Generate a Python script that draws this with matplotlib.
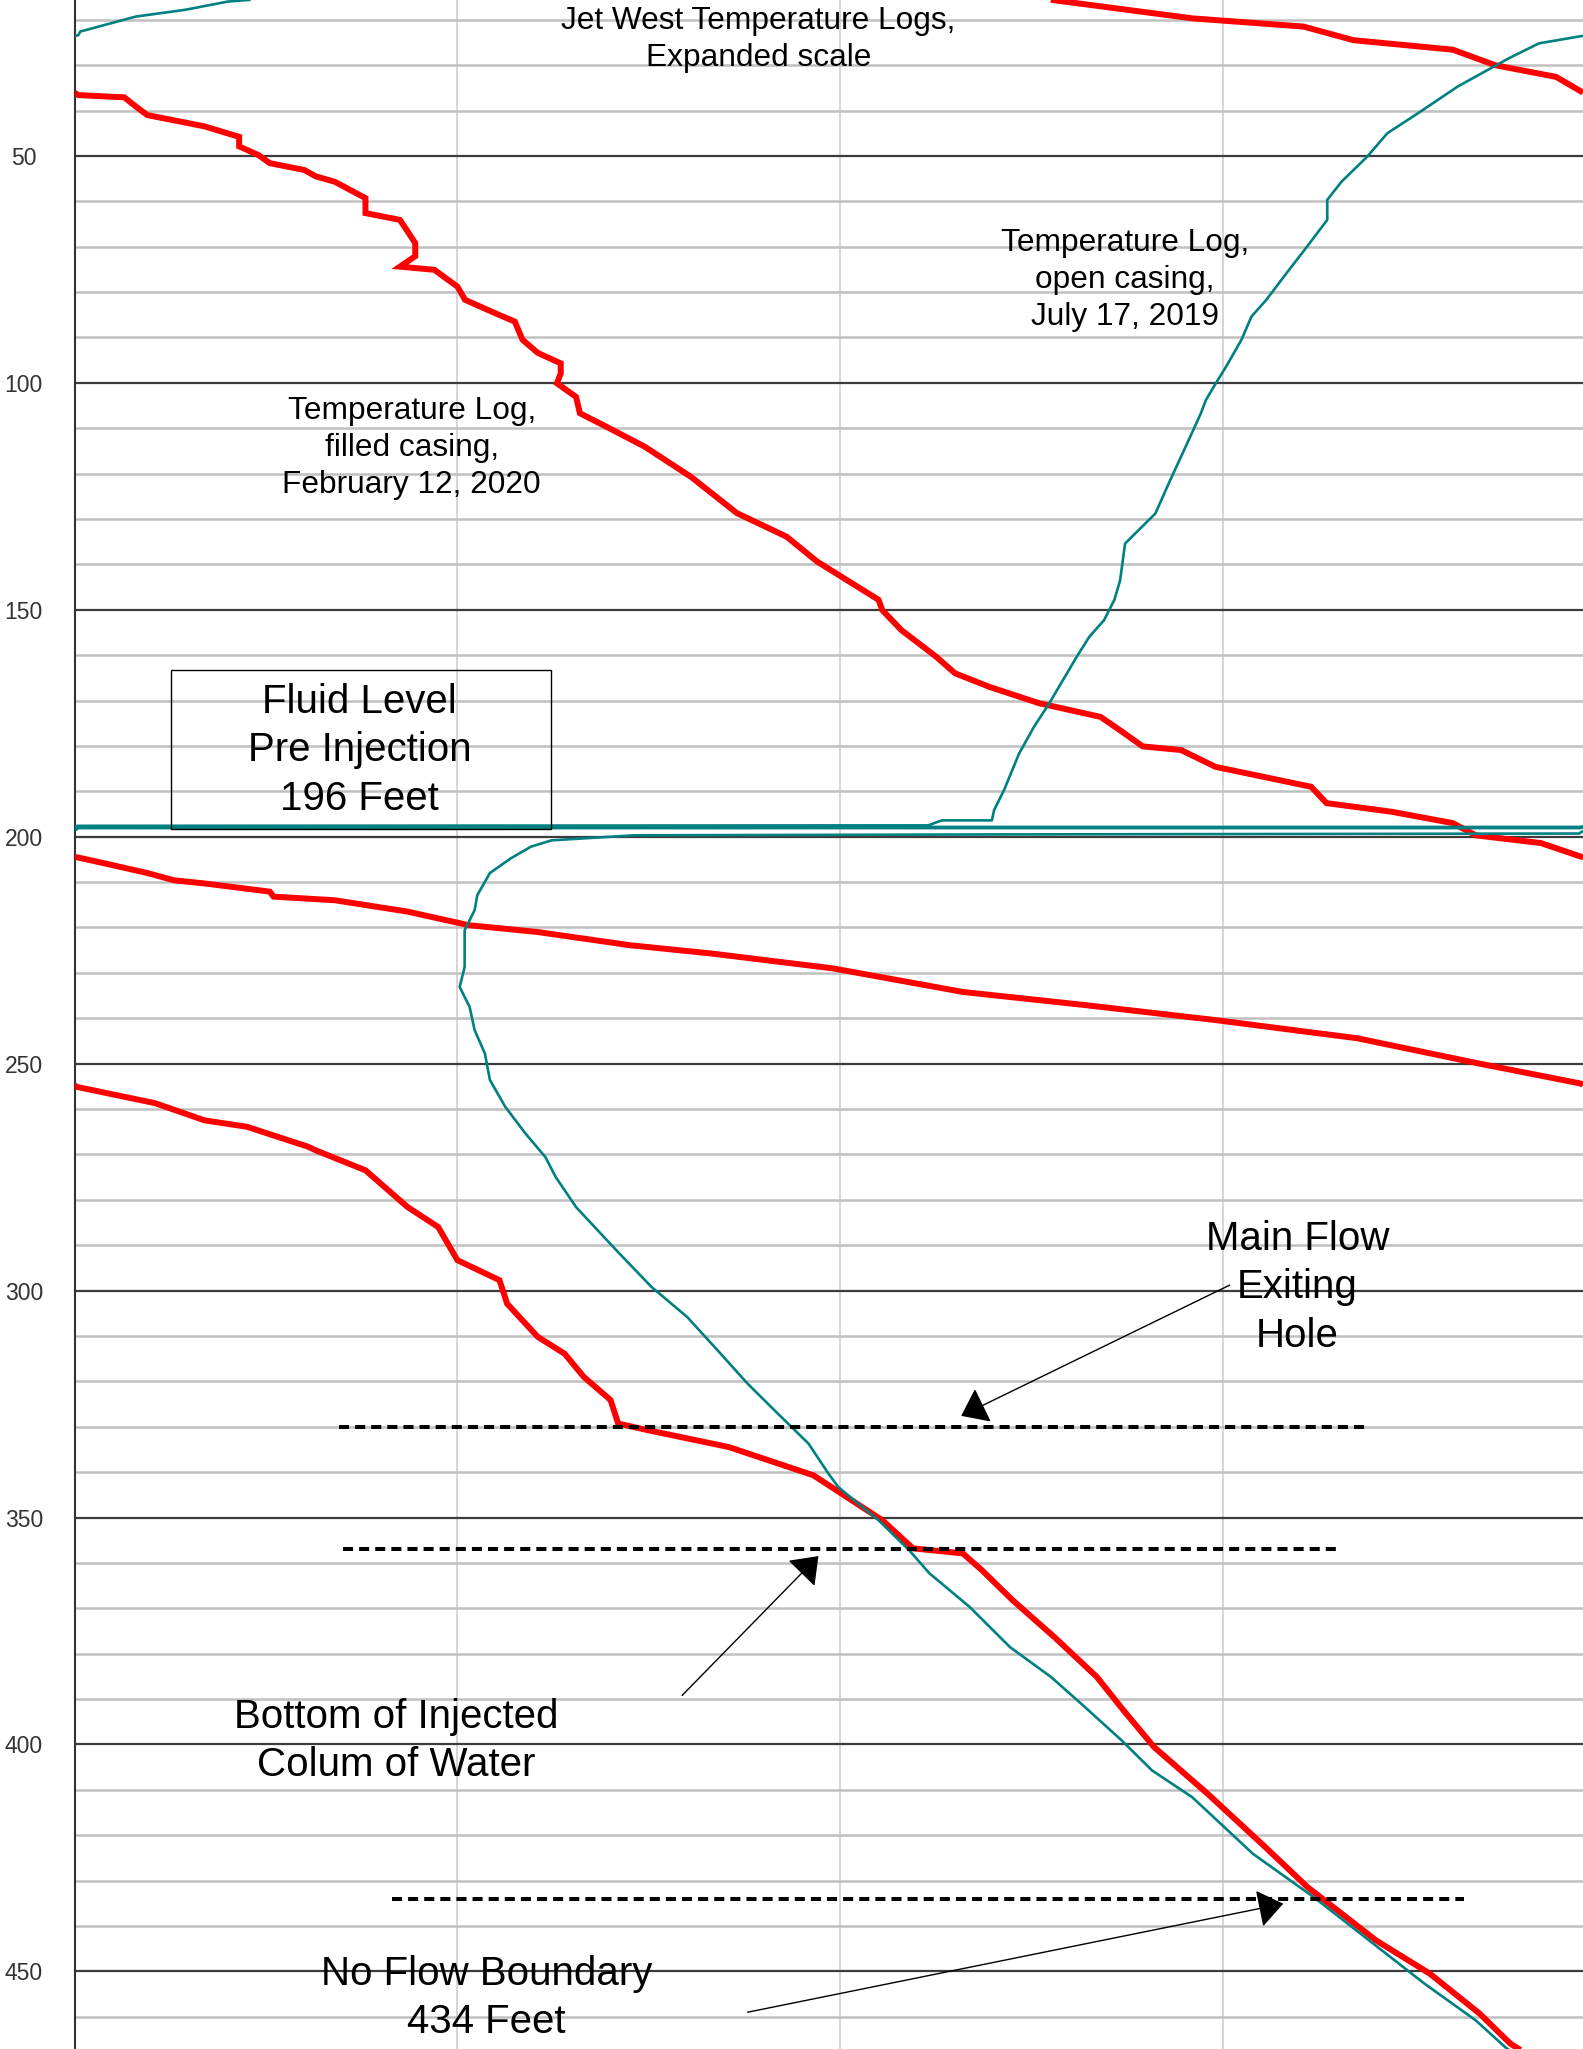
import numpy as np
import matplotlib
matplotlib.use("Agg")
import matplotlib.pyplot as plt
from matplotlib.patches import Rectangle

plt.rcParams['font.family'] = ['Liberation Sans', 'DejaVu Sans']

# ---------------------------------------------------------------------------
# Temperature logs on an expanded (wrapping) scale.
# Temperatures are given in scale divisions; the plot width is WRAP divisions
# and a trace that runs off one edge re-enters on the other.
# ---------------------------------------------------------------------------
WRAP = 3.94

# Filled casing, February 12, 2020 (red)
red_depth = [15.6, 19.7, 21.5, 24.5, 26.6, 30.0, 32.6, 35.8,
             36.6, 37.1, 39.1, 41.0, 43.5, 45.8, 47.9, 49.8, 51.6, 53.1, 54.5,
             55.7, 59.3, 62.6, 64.1, 69.2, 72.1, 74.4, 75.1, 78.8, 81.7, 84.7,
             86.5, 90.5, 93.4, 95.7, 97.9, 100.1, 103.1, 106.7, 109.7, 114.1,
             120.7, 128.7, 133.9, 139.4, 147.8, 150.1, 154.5, 160.3, 164.0,
             167.0, 170.6, 173.6, 176.5, 180.1, 180.9, 184.6, 189.0, 192.6,
             194.5, 197.0, 199.7, 201.4, 204.4,
             204.6, 205.9, 208.0, 209.6, 210.3, 212.1, 213.2, 214.0, 216.5,
             219.5, 221.0, 223.9, 225.7, 229.0, 234.2, 237.1, 240.4, 244.4,
             250.0, 254.4,
             255.1, 258.7, 262.5, 263.9, 268.3, 269.1, 273.5, 281.6, 286.0,
             293.3, 297.7, 302.9, 310.2, 313.9, 319.0, 324.1, 329.3, 330.8,
             334.5, 340.7, 346.2, 350.6, 356.8, 357.9, 361.6, 368.2, 376.4,
             385.1, 392.5, 400.6, 410.9, 422.6, 431.4, 443.2, 450.5, 459.3,
             465.9, 467.5]
red_temp = [2.55, 2.92, 3.21, 3.34, 3.60, 3.71, 3.87, 3.935,
            3.95, 4.07, 4.10, 4.13, 4.28, 4.37, 4.37, 4.42, 4.45, 4.54, 4.57,
            4.62, 4.70, 4.70, 4.79, 4.83, 4.83, 4.79, 4.88, 4.94, 4.96, 5.04,
            5.09, 5.11, 5.15, 5.21, 5.21, 5.20, 5.25, 5.26, 5.33, 5.43,
            5.55, 5.67, 5.80, 5.88, 6.04, 6.05, 6.10, 6.19, 6.24,
            6.33, 6.46, 6.62, 6.67, 6.73, 6.83, 6.92, 7.17, 7.21,
            7.38, 7.54, 7.60, 7.77, 7.875,
            7.89, 7.96, 8.07, 8.14, 8.22, 8.39, 8.40, 8.56, 8.75,
            8.91, 9.09, 9.33, 9.54, 9.86, 10.20, 10.52, 10.86, 11.23,
            11.55, 11.815,
            11.825, 12.03, 12.16, 12.27, 12.43, 12.45, 12.58, 12.69, 12.77,
            12.82, 12.93, 12.95, 13.03, 13.10, 13.15, 13.22, 13.24, 13.32,
            13.53, 13.75, 13.85, 13.93, 14.01, 14.14, 14.19, 14.27, 14.38,
            14.49, 14.56, 14.64, 14.78, 14.93, 15.04, 15.22, 15.36, 15.49,
            15.57, 15.60]

# Open casing, July 17, 2019 (teal)
teal_depth = [15.6, 16.0, 17.8, 19.3, 22.6,
              23.4, 25.2, 28.5, 34.7, 40.6, 45.0, 50.2, 55.7, 59.7, 64.1, 70.0,
              75.8, 81.7, 85.4, 90.5, 96.4, 100.1, 103.8, 106.7, 114.1, 121.4,
              128.8, 135.4, 143.5, 147.8, 152.3, 155.9, 160.3, 170.6, 175.8,
              181.7, 189.7, 194.1, 196.4, 196.4, 197.5, 197.6,
              197.85, 197.85, 198.1, 198.1, 199.3,
              199.5, 199.7, 200.8, 202.2, 204.8, 208.0, 212.9, 216.2, 220.6,
              228.7, 233.1, 237.5, 242.6, 247.8, 253.6, 259.5, 265.4, 270.6,
              275.0, 281.6, 291.1, 299.2, 305.8, 313.1, 320.5, 327.1, 333.7,
              340.3, 343.3, 350.6, 357.2, 362.3, 369.7, 378.6, 385.1, 391.0,
              399.1, 405.7, 411.6, 424.1, 433.6, 444.0, 452.7, 460.8, 466.7,
              467.5]
teal_temp = [16.22, 16.16, 16.05, 15.92, 15.775,
             15.77, 15.645, 15.566, 15.433, 15.329, 15.249, 15.196, 15.129,
             15.092, 15.092, 15.039, 14.986, 14.933, 14.894, 14.868, 14.828,
             14.801, 14.775, 14.762, 14.722, 14.682, 14.643, 14.564, 14.551,
             14.536, 14.509, 14.471, 14.438, 14.366, 14.326, 14.287, 14.248,
             14.222, 14.216, 14.085, 14.05, 11.83,
             11.81, 7.89, 7.87, 3.95, 3.93,
             2.40, 1.46, 1.246, 1.192, 1.139, 1.085, 1.052, 1.045, 1.019,
             1.019, 1.006, 1.032, 1.045, 1.072, 1.085, 1.125, 1.178, 1.230,
             1.257, 1.31, 1.415, 1.507, 1.60, 1.679, 1.758, 1.837, 1.917,
             1.969, 1.995, 2.10, 2.18, 2.233, 2.338, 2.444, 2.55, 2.629,
             2.735, 2.814, 2.919, 3.078, 3.236, 3.394, 3.526, 3.66, 3.737,
             3.75]

# Marked depths (feet)
main_flow_depth = 330.0
injected_bottom_depth = 357.0
no_flow_depth = 434.0
fluid_level_depth = 196

DEPTH_TOP, DEPTH_BOTTOM = 15.65, 467.1


def wrapped_pieces(depth, temp, period):
    """Split a trace into pieces that fit inside [0, period]."""
    pieces = []
    xs, ys = [], []
    for i, (d, t) in enumerate(zip(depth, temp)):
        if i > 0:
            d0, t0 = depth[i - 1], temp[i - 1]
            k0, k1 = int(np.floor(t0 / period)), int(np.floor(t / period))
            step = 1 if k1 > k0 else -1
            for k in range(k0, k1, step):
                edge = (k + 1) * period if step > 0 else k * period
                f = (edge - t0) / (t - t0)
                de = d0 + f * (d - d0)
                xs.append(period if step > 0 else 0.0)
                ys.append(de)
                pieces.append((xs, ys))
                xs, ys = [0.0 if step > 0 else period], [de]
        xs.append(t - np.floor(t / period) * period)
        ys.append(d)
    pieces.append((xs, ys))
    return pieces


fig = plt.figure(figsize=(15.83, 20.49), dpi=100)
left = 74.5 / 1583
ax = fig.add_axes([left, 0.0, 1.0 - left, 1.0])
ax.set_xlim(0, WRAP)
ax.set_ylim(DEPTH_BOTTOM, DEPTH_TOP)

# grid
ax.set_yticks(np.arange(50, 451, 50))
ax.set_yticks([v for v in range(20, 461, 10) if v % 50], minor=True)
ax.set_xticks([1, 2, 3])
ax.grid(which='major', axis='y', color='#3c3c3c', lw=1.6, zorder=1)
ax.grid(which='minor', axis='y', color='#c0c0c0', lw=1.8, zorder=0)
ax.grid(which='major', axis='x', color='#cfcfcf', lw=1.2, zorder=0)
ax.set_axisbelow(True)
ax.tick_params(axis='x', length=0, labelbottom=False)
ax.tick_params(axis='y', which='both', length=0)
ax.tick_params(axis='y', which='major', pad=36.5, labelsize=16.5,
               labelcolor='#333333')
for tk in ax.yaxis.get_major_ticks():
    tk.label1.set_horizontalalignment('center')
for side in ('top', 'right', 'bottom'):
    ax.spines[side].set_visible(False)
ax.spines['left'].set_color('#333333')
ax.spines['left'].set_linewidth(1.5)

# traces
for xs, ys in wrapped_pieces(red_depth, red_temp, WRAP):
    ax.plot(xs, ys, color='#ff0000', lw=4.3, solid_joinstyle='miter',
            solid_capstyle='butt', zorder=3)
for xs, ys in wrapped_pieces(teal_depth, teal_temp, WRAP):
    ax.plot(xs, ys, color='#008080', lw=1.9, solid_capstyle='butt', zorder=4)

# marker lines
dash = dict(colors='black', lw=2.9, linestyles=(0, (2.5, 1.5)), zorder=5)
ax.hlines(main_flow_depth, 0.69, 3.38, **dash)
ax.hlines(injected_bottom_depth, 0.70, 3.30, **dash)
ax.hlines(no_flow_depth, 0.83, 3.63, **dash)

# annotations
small = dict(ha='center', va='center', color='black', zorder=6,
             fontsize=22.8, linespacing=1.3)
big = dict(ha='center', va='center', color='black', zorder=6,
           fontsize=29, linespacing=1.34)
ax.text(1.787, 24.4, 'Jet West Temperature Logs,\nExpanded scale', **small)
ax.text(2.743, 77.3, 'Temperature Log,\nopen casing,\nJuly 17, 2019', **small)
ax.text(0.881, 114.4, 'Temperature Log,\nfilled casing,\nFebruary 12, 2020',
        **small)
ax.text(0.745, 181.0, f'Fluid Level\nPre Injection\n{fluid_level_depth} Feet',
        **big)
ax.add_patch(Rectangle((0.252, 163.2), 1.244 - 0.252, 198.3 - 163.2,
                       fill=False, edgecolor='black', lw=1.0, zorder=6))
ax.text(3.194, 299.3, 'Main Flow\nExiting\nHole', **big)
ax.text(0.84, 399.2, 'Bottom of Injected\nColum of Water', **big)
ax.text(1.076, 455.9, f'No Flow Boundary\n{no_flow_depth:.0f} Feet', **big)

arrow = dict(arrowstyle='-|>,head_length=0.4,head_width=0.3',
             mutation_scale=40, color='black', lw=1.0,
             shrinkA=0, shrinkB=0)
ax.annotate('', xy=(2.316, 327.6), xytext=(3.017, 298.8),
            arrowprops=arrow, zorder=6)
ax.annotate('', xy=(1.943, 358.5), xytext=(1.587, 389.2),
            arrowprops=arrow, zorder=6)
ax.annotate('', xy=(3.157, 435.1), xytext=(1.758, 459.0),
            arrowprops=arrow, zorder=6)

fig.savefig('out.png', dpi=100, facecolor='white')
